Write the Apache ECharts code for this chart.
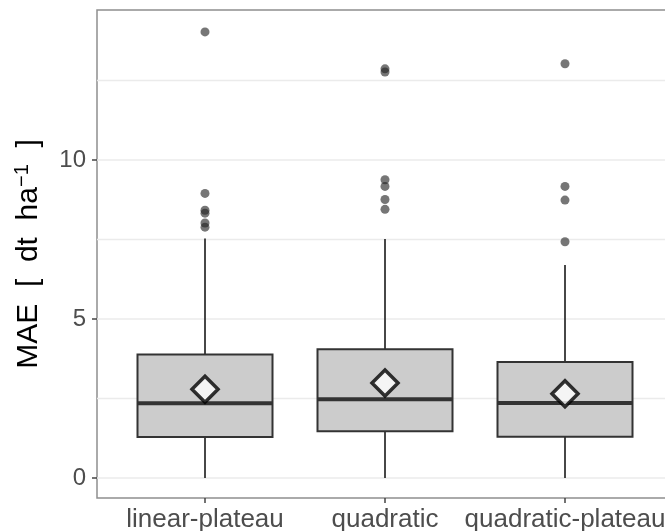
<!DOCTYPE html>
<html>
<head>
<meta charset="utf-8">
<script src="https://cdn.jsdelivr.net/npm/echarts@6/dist/echarts.min.js"></script>
<style>
html,body{margin:0;padding:0;background:#fff;}
#chart{width:665px;height:531px;}
</style>
</head>
<body>
<div id="chart"></div>
<script>
// ---- data ----
var categories = ['linear-plateau', 'quadratic', 'quadratic-plateau'];
var whiskerLow = [0, 0, 0];
var q1 = [1.29, 1.47, 1.30];
var median = [2.35, 2.48, 2.36];
var q3 = [3.88, 4.05, 3.65];
var whiskerHigh = [7.53, 7.52, 6.70];
var means = [2.79, 2.99, 2.65];
var outliersLinearPlateau = [14.03, 8.95, 8.42, 8.33, 8.02, 7.89];
var outliersQuadratic = [12.87, 12.77, 9.38, 9.17, 8.76, 8.45];
var outliersQuadraticPlateau = [13.03, 9.17, 8.74, 7.43];
var yTicks = [0, 5, 10];
var gridValues = [0, 2.5, 5, 7.5, 10, 12.5];

// ---- derived series data ----
var boxData = categories.map(function (c, i) {
  return [i + 1, whiskerLow[i], q1[i], median[i], q3[i], whiskerHigh[i]];
});
var outlierGroups = [outliersLinearPlateau, outliersQuadratic, outliersQuadraticPlateau];
var outlierData = [];
outlierGroups.forEach(function (arr, i) {
  arr.forEach(function (v) { outlierData.push([i + 1, v]); });
});
var meanData = means.map(function (m, i) { return [i + 1, m]; });
var tickPositions = categories.map(function (c, i) { return i + 1; });

var FONT = "'Liberation Sans', Arial, sans-serif";

var chart = echarts.init(document.getElementById('chart'), null, {renderer: 'canvas'});
chart.setOption({
  animation: false,
  backgroundColor: '#ffffff',
  grid: {
    left: 97, top: 10, width: 576, height: 488,
    outerBoundsMode: 'none',
    show: true, borderColor: '#8f8f8f', borderWidth: 1.5,
    backgroundColor: 'transparent', containLabel: false
  },
  xAxis: {
    type: 'value', min: 0.4, max: 3.6,
    splitLine: {show: false},
    axisLine: {show: false, onZero: false},
    axisTick: {show: true, customValues: tickPositions, length: 5, lineStyle: {color: '#444', width: 1.5}},
    axisLabel: {
      show: true, customValues: tickPositions, margin: 9,
      fontSize: 26, fontFamily: FONT, color: '#4D4D4D',
      formatter: function (v) { return categories[Math.round(v) - 1] || ''; }
    }
  },
  yAxis: {
    type: 'value', min: -0.63, max: 14.72,
    splitLine: {show: false},
    axisLine: {show: false, onZero: false},
    axisTick: {show: true, customValues: yTicks, length: 5, lineStyle: {color: '#444', width: 1.5}},
    axisLabel: {
      show: true, customValues: yTicks, margin: 11,
      fontSize: 24, fontFamily: FONT, color: '#4D4D4D'
    },
    name: 'MAE  [  dt  ha{sup|\u22121}  ]',
    nameLocation: 'middle',
    nameGap: 51,
    nameTextStyle: {
      fontSize: 30, fontFamily: FONT, color: '#000',
      rich: {sup: {fontSize: 20, fontFamily: FONT, color: '#000', padding: [0, 0, 14, 0]}}
    }
  },
  series: [
    {
      type: 'custom',
      name: 'grid',
      z: 0,
      silent: true,
      data: gridValues,
      encode: {y: 0},
      renderItem: function (params, api) {
        var v = api.value(0);
        var p1 = api.coord([0.4, v]);
        var p2 = api.coord([3.6, v]);
        return {
          type: 'line',
          shape: {x1: p1[0], y1: p1[1], x2: p2[0], y2: p2[1]},
          style: {stroke: '#EBEBEB', lineWidth: 1.5}
        };
      }
    },
    {
      type: 'custom',
      name: 'box',
      z: 2,
      silent: true,
      data: boxData,
      encode: {x: 0, y: [1, 2, 3, 4, 5]},
      renderItem: function (params, api) {
        var x = api.value(0);
        var half = api.size([0.75, 0])[0] / 2;
        var pLow = api.coord([x, api.value(1)]);
        var pQ1 = api.coord([x, api.value(2)]);
        var pMed = api.coord([x, api.value(3)]);
        var pQ3 = api.coord([x, api.value(4)]);
        var pHigh = api.coord([x, api.value(5)]);
        var cx = pMed[0];
        return {
          type: 'group',
          children: [
            {type: 'line', shape: {x1: cx, y1: pLow[1], x2: cx, y2: pQ1[1]}, style: {stroke: '#333', lineWidth: 1.8}},
            {type: 'line', shape: {x1: cx, y1: pQ3[1], x2: cx, y2: pHigh[1]}, style: {stroke: '#333', lineWidth: 1.8}},
            {type: 'rect', shape: {x: cx - half, y: pQ3[1], width: 2 * half, height: pQ1[1] - pQ3[1]},
              style: {fill: '#CCCCCC', stroke: '#333', lineWidth: 2}},
            {type: 'line', shape: {x1: cx - half, y1: pMed[1], x2: cx + half, y2: pMed[1]}, style: {stroke: '#333', lineWidth: 4}}
          ]
        };
      }
    },
    {
      type: 'scatter',
      name: 'outliers',
      z: 3,
      silent: true,
      data: outlierData,
      symbol: 'circle',
      symbolSize: 9,
      itemStyle: {color: 'rgba(35,35,35,0.78)'}
    },
    {
      type: 'scatter',
      name: 'mean',
      z: 4,
      silent: true,
      data: meanData,
      symbol: 'diamond',
      symbolSize: 26,
      itemStyle: {color: '#ffffff', borderColor: '#000000', borderWidth: 3.5}
    }
  ]
});
</script>
</body>
</html>
